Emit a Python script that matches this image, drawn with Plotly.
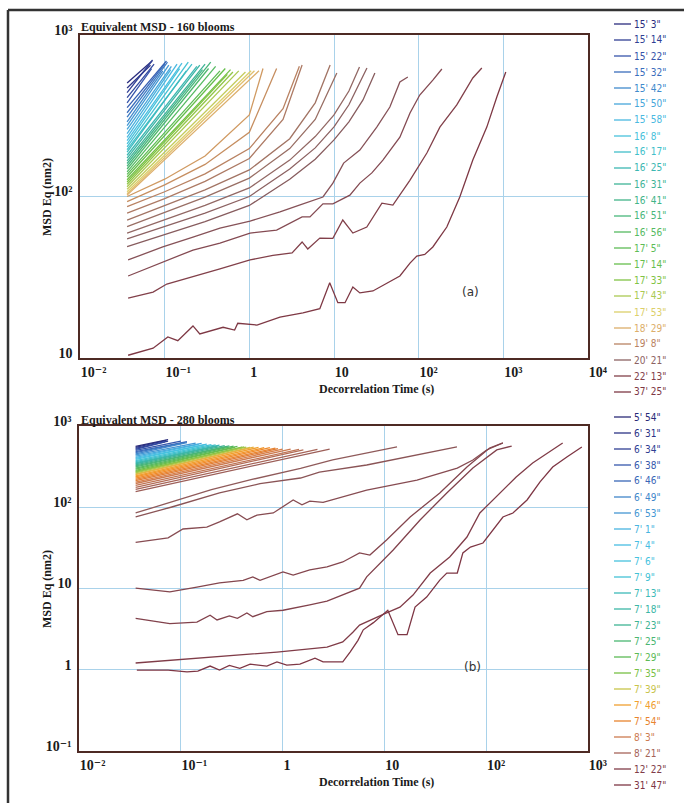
import plotly.graph_objects as go

W, H = 684, 803
T0 = 0.036  # first lag time (s) of every curve

# ================= Panel (a): Equivalent MSD - 160 blooms =================
# short "fan" curves: start value at T0, end time, end value
a_fan_v0 = [505, 470, 440, 410, 380, 355, 330, 310, 290, 275, 260, 245, 232, 222, 212,
            203, 195, 188, 180, 173, 166, 160, 154, 148, 142, 137, 132, 127, 123, 119,
            115, 111, 107, 104, 102]
a_fan_t1 = [0.071, 0.068, 0.072, 0.075, 0.070, 0.105, 0.100, 0.108, 0.095, 0.112, 0.120,
            0.118, 0.140, 0.160, 0.150, 0.190, 0.210, 0.180, 0.240, 0.260, 0.300, 0.280,
            0.350, 0.330, 0.400, 0.450, 0.520, 0.600, 0.550, 0.640, 0.750, 0.900, 1.05,
            1.15, 1.30]
a_fan_v1 = [690, 650, 700, 660, 620, 690, 660, 680, 600, 650, 640, 610, 660, 670, 620,
            680, 660, 600, 640, 650, 660, 610, 680, 620, 640, 600, 620, 610, 570, 590,
            600, 590, 600, 600, 600]

# longer curves (time s, MSD nm2)
a_m9_t = [0.036, 0.1, 0.3, 1, 1.45]
a_m9_v = [100, 128, 178, 320, 620]
a_m8_t = [0.036, 0.1, 0.3, 1, 2.1]
a_m8_v = [93, 118, 158, 250, 620]
a_m7_t = [0.036, 0.1, 0.3, 1, 2.5, 3.9]
a_m7_v = [86.5, 107, 138, 198, 350, 640]
a_m6_t = [0.036, 0.1, 0.3, 1, 2.5, 4.2]
a_m6_v = [79, 97, 124, 172, 300, 652]
a_m5_t = [0.036, 0.1, 0.3, 1, 3, 6, 9]
a_m5_v = [71.5, 88, 110, 146, 228, 380, 652]
a_m4_t = [0.036, 0.1, 0.3, 1, 3, 6, 10.8]
a_m4_v = [65, 80, 99, 130, 198, 300, 582]
a_m3_t = [0.036, 0.1, 0.3, 1, 3, 6, 10, 15, 20]
a_m3_v = [59.4, 72, 88, 113, 168, 235, 320, 450, 633]
a_m2_t = [0.036, 0.1, 0.3, 1, 3, 6, 10, 15, 24.5]
a_m2_v = [54.6, 65, 79, 100, 148, 200, 270, 370, 625]
a_m1_t = [0.036, 0.1, 0.3, 1, 3, 6, 10, 15, 22, 30.4]
a_m1_v = [48.9, 58, 70, 88, 128, 170, 224, 290, 396, 582]
a_a4_t = [0.037, 0.095, 0.216, 0.45, 1.02, 2.3, 3.9, 7.4, 9.7, 13, 20.2, 32, 45.7, 60, 74.5]
a_a4_v = [40.5, 48.7, 56.1, 63.8, 70.5, 80.2, 88.5, 99.3, 121, 161, 194, 269, 358, 512, 550]
a_a3_t = [0.037, 0.095, 0.216, 0.45, 1.02, 2.1, 4.2, 5.2, 7.4, 9.7, 15.4, 20.2, 28, 37.8,
          60, 79, 103, 147, 188]
a_a3_v = [32.2, 39.3, 46.6, 51.5, 59.4, 62, 74.7, 74.7, 90, 90, 102, 121, 140, 168,
          233, 329, 425, 526, 616]
a_a2_t = [0.037, 0.073, 0.106, 0.216, 0.45, 1.02, 1.9, 3.2, 4.2, 4.9, 6.8, 9.7, 12.7,
          16.7, 24.4, 36.8, 49.6, 78.7, 125, 178, 282, 436, 557]
a_a2_v = [23.5, 25.6, 28.7, 31.8, 35.6, 40.5, 43.2, 44.7, 52.3, 47.3, 55.3, 55, 71.5,
          59.4, 64.7, 91, 88.5, 126, 186, 269, 369, 542, 625]
a_a1_t = [0.037, 0.073, 0.109, 0.143, 0.216, 0.26, 0.49, 0.67, 0.73, 1.23, 2.3, 4.3, 6.8,
          8.9, 11.1, 13.5, 16.7, 20.2, 28.8, 43, 60, 79, 95, 118, 147, 215, 306, 436,
          638, 838, 1069]
a_a1_v = [10.4, 11.5, 13.5, 12.8, 15.8, 14.1, 15.5, 14.9, 16.4, 16.0, 17.9, 19.0, 20.2,
          29.2, 22.0, 22.0, 27.5, 25.3, 26.0, 29.1, 32.2, 38.7, 42.8, 43.8, 48.7, 64.7,
          99.3, 168, 269, 413, 590]

a_legend = ["15' 3\"", "15' 14\"", "15' 22\"", "15' 32\"", "15' 42\"", "15' 50\"",
            "15' 58\"", "16' 8\"", "16' 17\"", "16' 25\"", "16' 31\"", "16' 41\"",
            "16' 51\"", "16' 56\"", "17' 5\"", "17' 14\"", "17' 33\"", "17' 43\"",
            "17' 53\"", "18' 29\"", "19' 8\"", "20' 21\"", "22' 13\"", "37' 25\""]

# ================= Panel (b): Equivalent MSD - 280 blooms =================
b_fan_v0 = [560, 545, 530, 515, 500, 485, 470, 455, 440, 425, 412, 400, 388, 376, 364,
            353, 343, 333, 323, 313, 303, 294, 285, 276, 270, 264, 258, 252, 244, 236,
            228, 220, 212, 204, 196, 186, 176, 166, 156]
b_fan_t1 = [0.075, 0.072, 0.075, 0.070, 0.100, 0.115, 0.105, 0.115, 0.140, 0.160, 0.150,
            0.180, 0.170, 0.200, 0.220, 0.240, 0.230, 0.270, 0.300, 0.280, 0.330, 0.360,
            0.340, 0.400, 0.420, 0.440, 0.480, 0.520, 0.580, 0.660, 0.750, 0.850, 0.900,
            1.00, 1.20, 1.45, 1.60, 2.20, 2.90]
b_fan_v1 = [680, 665, 650, 640, 650, 640, 620, 625, 615, 610, 595, 600, 585, 590, 585,
            580, 565, 575, 570, 555, 565, 560, 545, 550, 555, 550, 545, 550, 545, 540,
            540, 535, 525, 520, 520, 515, 510, 515, 520]

b_u1_t = [0.036, 0.08, 0.2, 0.5, 1.5, 3.1, 6.7, 13.3]
b_u1_v = [85, 115, 165, 220, 300, 382, 465, 552]
b_u2_t = [0.036, 0.08, 0.24, 0.6, 1.5, 2.3, 6.7, 20.9, 51.6]
b_u2_v = [76, 100, 150, 195, 229, 271, 331, 440, 552]
b_37_t = [0.036, 0.075, 0.105, 0.18, 0.24, 0.36, 0.446, 0.56, 0.81, 1.01, 1.27, 1.55,
          1.85, 2.5, 3.9, 6.7, 20.9, 52, 74, 101, 146]
b_37_v = [37, 42, 54, 57, 66, 83, 70, 80, 85, 101, 123, 107, 119, 115, 134, 163, 216,
          304, 382, 507, 618]
b_10_t = [0.036, 0.078, 0.144, 0.24, 0.41, 0.51, 0.60, 0.75, 1.01, 1.27, 1.85, 2.73,
          3.9, 5.7, 7.2, 10.5, 17.9, 35, 64.7, 108, 146]
b_10_v = [10.1, 9.1, 10.4, 11.7, 12.6, 13.9, 12.6, 13.9, 16.0, 14.6, 16.9, 18.5, 21.2,
          27.4, 25.8, 39.5, 75.9, 150, 313, 536, 618]
b_4_t = [0.036, 0.078, 0.144, 0.194, 0.227, 0.30, 0.36, 0.446, 0.51, 0.70, 1.01, 1.38,
         1.85, 2.73, 3.9, 5.7, 6.7, 12.2, 22.4, 41, 74, 127, 178]
b_4_v = [4.3, 3.7, 3.85, 4.7, 4.1, 4.6, 4.3, 5.0, 4.5, 5.2, 5.4, 5.8, 6.3, 7.0, 8.3,
         10.1, 13.9, 29.8, 69.7, 150, 304, 507, 567]
b_s_t = [0.036, 0.194, 0.88, 2.73, 3.9, 4.9, 5.7, 10.5, 14.2, 19.1, 28.2, 43.8, 64.7,
         86.6, 135, 197, 286, 564]
b_s_v = [1.21, 1.44, 1.65, 1.9, 2.2, 2.9, 3.55, 5.0, 5.9, 8.3, 15.5, 24.4, 43, 85, 150,
         236, 350, 618]
b_j_t = [0.037, 0.075, 0.115, 0.147, 0.194, 0.24, 0.30, 0.38, 0.48, 0.70, 0.88, 1.10,
         1.48, 2.08, 2.5, 3.9, 4.6, 5.5, 6.2, 7.8, 10.8, 13.6, 16.7, 20, 26, 35, 41, 52,
         59, 70, 93, 116, 146, 183, 252, 338, 450, 620, 870]
b_j_v = [0.99, 0.99, 0.94, 0.96, 1.11, 0.99, 1.13, 1.04, 1.17, 1.11, 1.25, 1.14, 1.17,
         1.39, 1.25, 1.25, 1.65, 2.3, 3.1, 3.8, 5.4, 2.7, 2.7, 5.9, 7.85, 12.7, 15.5, 15.5,
         27.4, 32.4, 36.3, 52.5, 75.9, 85, 123, 205, 313, 415, 552]

b_legend = ["5' 54\"", "6' 31\"", "6' 34\"", "6' 38\"", "6' 46\"", "6' 49\"", "6' 53\"",
            "7' 1\"", "7' 4\"", "7' 6\"", "7' 9\"", "7' 13\"", "7' 18\"", "7' 23\"",
            "7' 25\"", "7' 29\"", "7' 35\"", "7' 39\"", "7' 46\"", "7' 54\"", "8' 3\"",
            "8' 21\"", "12' 22\"", "31' 47\""]

# ================= tick labels =================
a_x_tickvals = [0.01, 0.1, 1, 10, 100, 1000, 10000]
a_x_ticktext = ["10⁻²", "10⁻¹", "1", "10", "10²", "10³", "10⁴"]
a_y_tickvals = [10, 100, 1000]
a_y_ticktext = ["10", "10²", "10³"]
b_x_tickvals = [0.01, 0.1, 1, 10, 100, 1000]
b_x_ticktext = ["10⁻²", "10⁻¹", "1", "10", "10²", "10³"]
b_y_tickvals = [0.1, 1, 10, 100, 1000]
b_y_ticktext = ["10⁻¹", "1", "10", "10²", "10³"]

# ================= styles =================
a_fan_colors = ["#2a2c7e", "#2d3589", "#303f94", "#33499f", "#3654aa",
                "#3860b3", "#3a6dbc", "#3d7bc4", "#408acc", "#4398d4", "#46a6da", "#48b1de",
                "#4ab9e1", "#4abfe1", "#47c1db", "#44c1d3", "#41bfca", "#3ebbbf", "#3cb7b2", "#3cb4a4",
                "#3eb396", "#42b488", "#48b67b", "#4eb86d",
                "#55ba61", "#5dbc55", "#66be4c", "#72c046", "#80c344", "#92c648",
                "#aac952", "#c4cc5e", "#dccf6a", "#e2c06e", "#dcae6a"]
a_curve_colors = ["#d09a62", "#c68e60", "#b98262", "#ad7a64", "#a27464", "#986e64",
                  "#926864", "#8c6262", "#875c5e", "#865258", "#844a52", "#82404a", "#7e3844"]
b_fan_colors = ["#2a2a78", "#2c3386", "#2f3e93", "#3249a0",
                "#3557ac", "#3966b7", "#3c76c1", "#4086ca",
                "#4496d3", "#46a6da", "#48b4e0", "#48bde2", "#46c2de", "#43c2d5",
                "#40bfc8", "#3dbab8", "#3cb6a6",
                "#3eb394", "#43b482", "#4ab672", "#52b863", "#5cba56", "#68bd4b", "#78c045", "#8cc344",
                "#a8c648", "#c8c44a",
                "#e8b040", "#f0a030", "#f29428", "#ef8a2a", "#e8842e", "#e07c34",
                "#d8804a", "#cc7a50", "#c07454", "#b26c56", "#a66458", "#9c5e58"]
b_curve_colors = ["#8f5a5a", "#8a5456", "#874c52", "#84464e", "#82424c", "#803c48", "#7e3644"]

# which curve each legend entry belongs to (index in the panel's curve list)
a_legend_idx = [0, 2, 4, 6, 8, 10, 12, 14, 16, 18, 20, 21, 22, 24, 25, 26, 28, 30, 32, 34,
                37, 42, 46, 47]
b_legend_idx = [0, 1, 2, 4, 5, 7, 8, 10, 11, 12, 13, 15, 16, 17, 19, 21, 23, 26, 28, 31,
                34, 37, 44, 45]

# ================= assemble curves =================
a_curves = [([T0, t1], [v0, v1]) for v0, t1, v1 in zip(a_fan_v0, a_fan_t1, a_fan_v1)]
a_curves += [(a_m9_t, a_m9_v), (a_m8_t, a_m8_v), (a_m7_t, a_m7_v), (a_m6_t, a_m6_v),
             (a_m5_t, a_m5_v), (a_m4_t, a_m4_v), (a_m3_t, a_m3_v), (a_m2_t, a_m2_v),
             (a_m1_t, a_m1_v), (a_a4_t, a_a4_v), (a_a3_t, a_a3_v), (a_a2_t, a_a2_v),
             (a_a1_t, a_a1_v)]
a_colors = a_fan_colors + a_curve_colors

b_curves = [([T0, t1], [v0, v1]) for v0, t1, v1 in zip(b_fan_v0, b_fan_t1, b_fan_v1)]
b_curves += [(b_u1_t, b_u1_v), (b_u2_t, b_u2_v), (b_37_t, b_37_v), (b_10_t, b_10_v),
             (b_4_t, b_4_v), (b_s_t, b_s_v), (b_j_t, b_j_v)]
b_colors = b_fan_colors + b_curve_colors

fig = go.Figure()
for (t, v), c in zip(a_curves, a_colors):
    fig.add_trace(go.Scatter(x=t, y=v, mode="lines", line=dict(color=c, width=1.3),
                             xaxis="x", yaxis="y", showlegend=False, hoverinfo="skip"))
for (t, v), c in zip(b_curves, b_colors):
    fig.add_trace(go.Scatter(x=t, y=v, mode="lines", line=dict(color=c, width=1.3),
                             xaxis="x2", yaxis="y2", showlegend=False, hoverinfo="skip"))


def fx(px):
    return px / W


def fy(py):
    return 1 - py / H


SERIF = "Liberation Serif, DejaVu Serif, Times New Roman, serif"
FRAME = "#4e2a24"
GRID = "#a9d2ea"

axis_common = dict(
    type="log", tickmode="array", showgrid=True, gridcolor=GRID,
    gridwidth=1, zeroline=False, showline=True, mirror=True, linecolor=FRAME,
    linewidth=1.6, ticks="", automargin=False,
    tickfont=dict(family=SERIF, size=14, color="#1a1a1a", weight="bold"),
)

fig.update_layout(
    width=W, height=H, margin=dict(l=0, r=0, t=0, b=0),
    paper_bgcolor="white", plot_bgcolor="white", showlegend=False,
    xaxis=dict(axis_common, domain=[fx(80), fx(588)], range=[-2, 4], anchor="y",
               tickvals=a_x_tickvals, ticktext=a_x_ticktext,
               ticklabelposition="outside right"),
    yaxis=dict(axis_common, domain=[fy(358), fy(35)], range=[1, 3], anchor="x",
               tickvals=a_y_tickvals, ticktext=a_y_ticktext,
               ticklabelshift=-5, ticklabelstandoff=3),
    xaxis2=dict(axis_common, domain=[fx(79), fx(588)], range=[-2, 3], anchor="y2",
                tickvals=b_x_tickvals, ticktext=b_x_ticktext,
                ticklabelposition="outside right"),
    yaxis2=dict(axis_common, domain=[fy(751), fy(426)], range=[-1, 3], anchor="x2",
                tickvals=b_y_tickvals, ticktext=b_y_ticktext,
                ticklabelshift=-5, ticklabelstandoff=3),
)

ann = []
shapes = []
bold_font = dict(family=SERIF, size=12, color="#1a1a1a", weight="bold")
for ty, txt in [(27, "Equivalent MSD - 160 blooms"), (420, "Equivalent MSD - 280 blooms")]:
    ann.append(dict(x=fx(79), y=fy(ty), xref="paper", yref="paper", text=txt,
                    showarrow=False, xanchor="left", yanchor="middle", font=bold_font))
for ty in [197, 589]:
    ann.append(dict(x=fx(47), y=fy(ty), xref="paper", yref="paper",
                    text="MSD Eq (nm2)", showarrow=False, textangle=-90,
                    xanchor="center", yanchor="middle", font=bold_font))
for ty in [389, 782]:
    ann.append(dict(x=fx(376), y=fy(ty), xref="paper", yref="paper",
                    text="Decorrelation Time (s)", showarrow=False,
                    xanchor="center", yanchor="middle", font=bold_font))
for tx, ty, txt in [(470, 292, "(a)"), (472, 667, "(b)")]:
    ann.append(dict(x=fx(tx), y=fy(ty), xref="paper", yref="paper", text=txt,
                    showarrow=False, xanchor="center", yanchor="middle",
                    font=dict(family="DejaVu Sans, sans-serif", size=12, color="#333")))

# manual legends (compact, one per panel)
LEG_FONT = "Liberation Sans Narrow, DejaVu Sans Condensed, Arial Narrow, sans-serif"
for labels, idxs, cols, y0 in [(a_legend, a_legend_idx, a_colors, 24),
                               (b_legend, b_legend_idx, b_colors, 417)]:
    for i, (lab, k) in enumerate(zip(labels, idxs)):
        yy = y0 + 16.0 * i
        c = cols[k]
        shapes.append(dict(type="line", xref="paper", yref="paper",
                           x0=fx(614), x1=fx(631), y0=fy(yy), y1=fy(yy),
                           line=dict(color=c, width=1.3)))
        ann.append(dict(x=fx(632), y=fy(yy), xref="paper", yref="paper", text=lab,
                        showarrow=False, xanchor="left", yanchor="middle",
                        font=dict(family=LEG_FONT, size=10, color=c)))

# outer frame (top and left edges visible in the page)
shapes.append(dict(type="line", xref="paper", yref="paper", x0=fx(8), x1=1.0,
                   y0=fy(10), y1=fy(10), line=dict(color="#333", width=2.5)))
shapes.append(dict(type="line", xref="paper", yref="paper", x0=fx(8), x1=fx(8),
                   y0=fy(10), y1=0.0, line=dict(color="#333", width=2.5)))

fig.update_layout(annotations=ann, shapes=shapes)
fig.write_html("out.html", config={"displayModeBar": False},
               post_script="document.body.style.margin='0px';document.body.style.overflow='hidden';")
